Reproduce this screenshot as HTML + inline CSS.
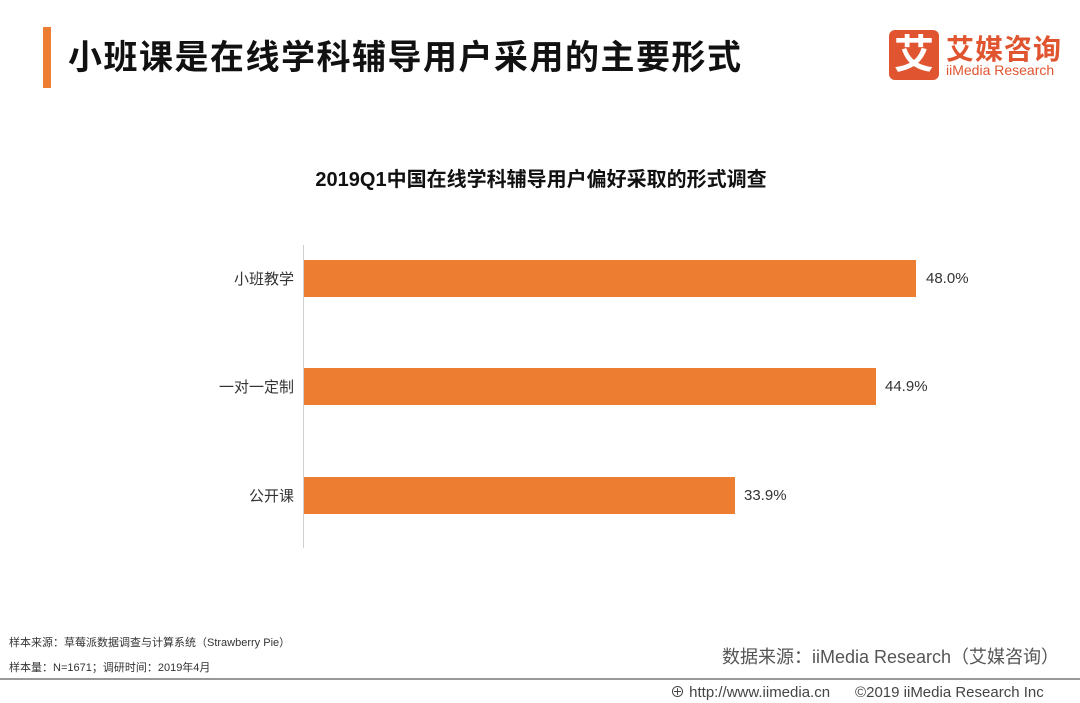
<!DOCTYPE html>
<html><head><meta charset="utf-8"><style>
body{margin:0;width:1080px;height:703px;background:#fff;position:relative;overflow:hidden;font-family:"Liberation Sans","Noto Sans CJK SC",sans-serif;}
.a{position:absolute;white-space:nowrap}
.bar{position:absolute;left:304px;height:37px;background:#ed7d31}
.lab{position:absolute;right:786px;font-size:15px;color:#333}
.val{position:absolute;font-size:15px;color:#333}
</style></head><body>
<div class="a" style="left:43px;top:27px;width:8px;height:61px;background:#ed7d31"></div>
<div class="a" style="left:68px;top:30px;font-size:34px;letter-spacing:1.5px;font-weight:bold;color:#111">小班课是在线学科辅导用户采用的主要形式</div>
<div class="a" style="left:889px;top:30px;width:50px;height:50px;background:#e0552f;border-radius:6px;color:#fff;font-size:40px;font-weight:bold;text-align:center;line-height:50px">艾</div>
<div class="a" style="left:946px;top:28px;font-size:28px;font-weight:bold;color:#e0552f;letter-spacing:1px">艾媒咨询</div>
<div class="a" style="left:946px;top:62px;font-size:14px;color:#e0552f">iiMedia Research</div>
<div class="a" style="left:0;width:1082px;top:163px;text-align:center;font-size:20px;font-weight:bold;color:#111">2019Q1中国在线学科辅导用户偏好采取的形式调查</div>
<div class="a" style="left:303px;top:245px;width:1px;height:303px;background:#d0d0d0"></div>
<div class="bar" style="top:260px;width:612px"></div>
<div class="bar" style="top:368px;width:572px"></div>
<div class="bar" style="top:477px;width:431px"></div>
<div class="lab" style="top:268px">小班教学</div>
<div class="lab" style="top:376px">一对一定制</div>
<div class="lab" style="top:485px">公开课</div>
<div class="val" style="left:926px;top:270px">48.0%</div>
<div class="val" style="left:885px;top:378px">44.9%</div>
<div class="val" style="left:744px;top:487px">33.9%</div>
<div class="a" style="left:9px;top:634px;font-size:11px;color:#333">样本来源：草莓派数据调查与计算系统（Strawberry Pie）</div>
<div class="a" style="left:9px;top:659px;font-size:11px;color:#333">样本量：N=1671；调研时间：2019年4月</div>
<div class="a" style="left:722px;top:643px;font-size:18px;color:#555">数据来源：iiMedia Research（艾媒咨询）</div>
<div class="a" style="left:0;top:678px;width:1080px;height:2px;background:#999"></div>
<div class="a" style="left:670px;top:681px;font-size:15px;color:#444">⊕ http://www.iimedia.cn &nbsp;&nbsp;&nbsp;&nbsp;&nbsp;©2019 iiMedia Research Inc</div>
</body></html>
